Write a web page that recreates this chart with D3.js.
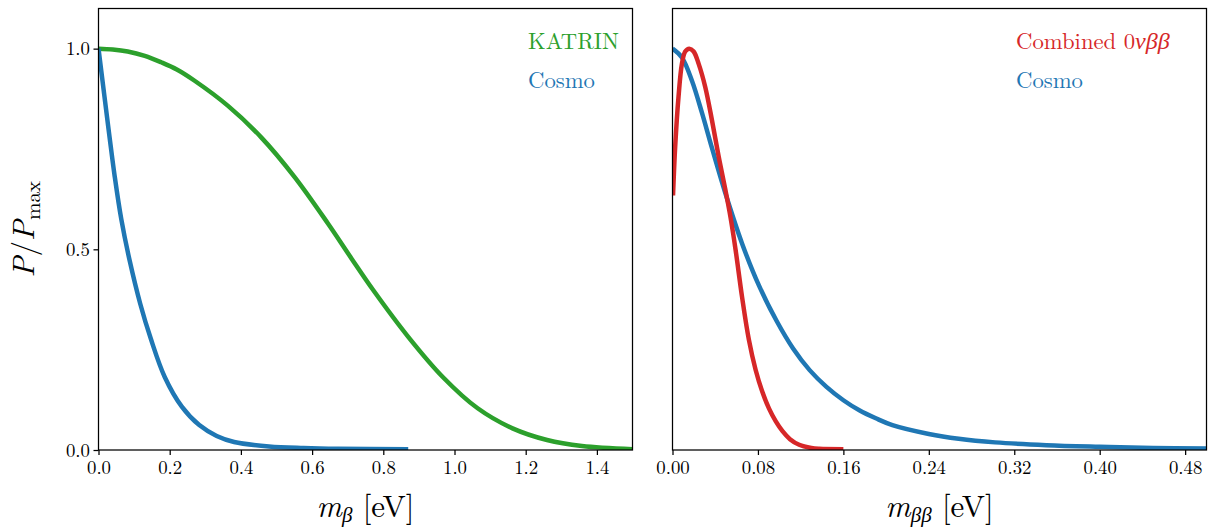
<!DOCTYPE html>
<html>
<head>
<meta charset="utf-8">
<script src="https://cdn.jsdelivr.net/npm/d3@7"></script>
<style>
  body { margin: 0; background: #fff; }
  text { white-space: pre; }
</style>
</head>
<body>
<script>
// values
const katrinX = [0, 0.04, 0.082, 0.13, 0.176, 0.22, 0.27, 0.363, 0.457, 0.551, 0.644, 0.71, 0.772, 0.87, 0.967, 1.065, 1.163, 1.26, 1.358, 1.5];
const katrinY = [1.0, 0.998, 0.993, 0.982, 0.966, 0.948, 0.92, 0.858, 0.779, 0.68, 0.565, 0.478, 0.398, 0.282, 0.182, 0.104, 0.054, 0.025, 0.01, 0.002];

const cosmoBetaX = [0, 0.017, 0.031, 0.045, 0.064, 0.088, 0.117, 0.147, 0.186, 0.234, 0.283, 0.332, 0.381, 0.479, 0.576, 0.674, 0.87];
const cosmoBetaY = [1.0, 0.879, 0.78, 0.685, 0.575, 0.47, 0.365, 0.277, 0.182, 0.108, 0.062, 0.035, 0.02, 0.009, 0.005, 0.003, 0.002];

const combinedX = [0.0005, 0.0025, 0.0056, 0.0088, 0.0119, 0.0157, 0.0198, 0.0245, 0.0307, 0.037, 0.0433, 0.0496, 0.0543, 0.059, 0.0652, 0.0715, 0.0778, 0.0841, 0.0904, 0.0966, 0.103, 0.11, 0.1186, 0.13, 0.1374, 0.16];
const combinedY = [0.634, 0.755, 0.879, 0.962, 0.993, 1.0, 0.993, 0.962, 0.904, 0.821, 0.73, 0.647, 0.58, 0.5, 0.38, 0.275, 0.2, 0.145, 0.103, 0.072, 0.047, 0.027, 0.013, 0.005, 0.003, 0.002];

const cosmoBBX = [0, 0.0088, 0.0182, 0.0276, 0.037, 0.0496, 0.0652, 0.0809, 0.0974, 0.1129, 0.1284, 0.1439, 0.16, 0.1749, 0.1904, 0.2059, 0.24, 0.268, 0.302, 0.35, 0.40, 0.45, 0.5];
const cosmoBBY = [1.0, 0.978, 0.92, 0.84, 0.752, 0.639, 0.514, 0.41, 0.322, 0.253, 0.199, 0.158, 0.124, 0.099, 0.079, 0.062, 0.04, 0.028, 0.019, 0.012, 0.008, 0.005, 0.004];

const leftTicks = [0, 0.2, 0.4, 0.6, 0.8, 1.0, 1.2, 1.4];
const rightTicks = [0, 0.08, 0.16, 0.24, 0.32, 0.40, 0.48];
const yTicks = [0, 0.5, 1.0];

const green = "#2ca02c", blue = "#1f77b4", red = "#d62728";
const font = '"Latin Modern Roman", "Liberation Serif", serif';

const W = 1216, H = 529;
const yTop = 8.5, yBottom = 450;

const svg = d3.select("body").append("svg")
  .attr("width", W).attr("height", H);

const yScale = d3.scaleLinear().domain([0, 1.1]).range([yBottom, yTop]);

const zip = (xs, ys) => xs.map((x, i) => [x, ys[i]]);

function panel(id, x0, x1, xMax, ticks, fmt, series, showY) {
  const xScale = d3.scaleLinear().domain([0, xMax]).range([x0, x1]);
  const g = svg.append("g");

  svg.append("clipPath").attr("id", id)
    .append("rect").attr("x", x0).attr("y", yTop).attr("width", x1 - x0).attr("height", yBottom - yTop);

  const line = d3.line()
    .x(d => xScale(d[0]))
    .y(d => yScale(d[1]))
    .curve(d3.curveCatmullRom.alpha(0.5));

  series.forEach(s => {
    g.append("path")
      .attr("clip-path", `url(#${id})`)
      .attr("d", line(zip(s.x, s.y)))
      .attr("fill", "none")
      .attr("stroke", s.color)
      .attr("stroke-width", 4.5)
      .attr("stroke-linejoin", "round");
  });

  const xAxis = g.append("g")
    .attr("transform", `translate(0,${yBottom})`)
    .call(d3.axisBottom(xScale).tickValues(ticks).tickFormat(fmt).tickSize(5).tickPadding(6));
  xAxis.select(".domain").remove();
  xAxis.selectAll("line").attr("stroke", "#000").attr("stroke-width", 1.25);
  xAxis.selectAll("text").style("font-family", font).attr("font-size", 18.8).attr("fill", "#000");

  if (showY) {
    const yAxis = g.append("g")
      .attr("transform", `translate(${x0},0)`)
      .call(d3.axisLeft(yScale).tickValues(yTicks).tickFormat(d3.format(".1f")).tickSize(5).tickPadding(3.5));
    yAxis.select(".domain").remove();
    yAxis.selectAll("line").attr("stroke", "#000").attr("stroke-width", 1.25);
    yAxis.selectAll("text").style("font-family", font).attr("font-size", 18.8).attr("fill", "#000");
  }

  g.append("rect")
    .attr("x", x0).attr("y", yTop).attr("width", x1 - x0).attr("height", yBottom - yTop)
    .attr("fill", "none").attr("stroke", "#000").attr("stroke-width", 1.25);

  return xScale;
}

panel("clipL", 98.5, 632.5, 1.5, leftTicks, d3.format(".1f"), [
  { x: katrinX, y: katrinY, color: green },
  { x: cosmoBetaX, y: cosmoBetaY, color: blue }
], true);

panel("clipR", 672.5, 1206.5, 0.5, rightTicks, d3.format(".2f"), [
  { x: cosmoBBX, y: cosmoBBY, color: blue },
  { x: combinedX, y: combinedY, color: red }
], false);

// legends (text only, coloured like the lines)
function legendText(x, y, color) {
  return svg.append("text").attr("x", x).attr("y", y)
    .style("font-family", font).attr("font-size", 22.7).attr("fill", color);
}
legendText(528, 49, green).text("KATRIN");
legendText(528, 88, blue).text("Cosmo");
const comb = legendText(1016, 49, red);
comb.append("tspan").text("Combined 0");
comb.append("tspan").attr("font-style", "italic").attr("font-size", 24).text("νββ");
legendText(1016, 88, blue).text("Cosmo");

// axis labels
function xLabel(cx, sub) {
  const t = svg.append("text").attr("x", cx).attr("y", 517)
    .attr("text-anchor", "middle").style("font-family", font).attr("font-size", 31).attr("fill", "#000");
  t.append("tspan").attr("font-style", "italic").text("m");
  t.append("tspan").attr("font-style", "italic").attr("font-size", 21).attr("dy", 5).text(sub);
  t.append("tspan").attr("dy", -5).text(" [eV]");
}
xLabel(365.5, "β");
xLabel(939.5, "ββ");

const yl = svg.append("text")
  .attr("transform", `translate(33.5,${(yTop + yBottom) / 2}) rotate(-90)`)
  .attr("text-anchor", "middle").style("font-family", font).attr("font-size", 31).attr("fill", "#000");
yl.append("tspan").attr("font-style", "italic").text("P");
yl.append("tspan").text("/");
yl.append("tspan").attr("font-style", "italic").text("P");
yl.append("tspan").attr("font-size", 21).attr("dy", 6).text("max");
</script>
</body>
</html>
